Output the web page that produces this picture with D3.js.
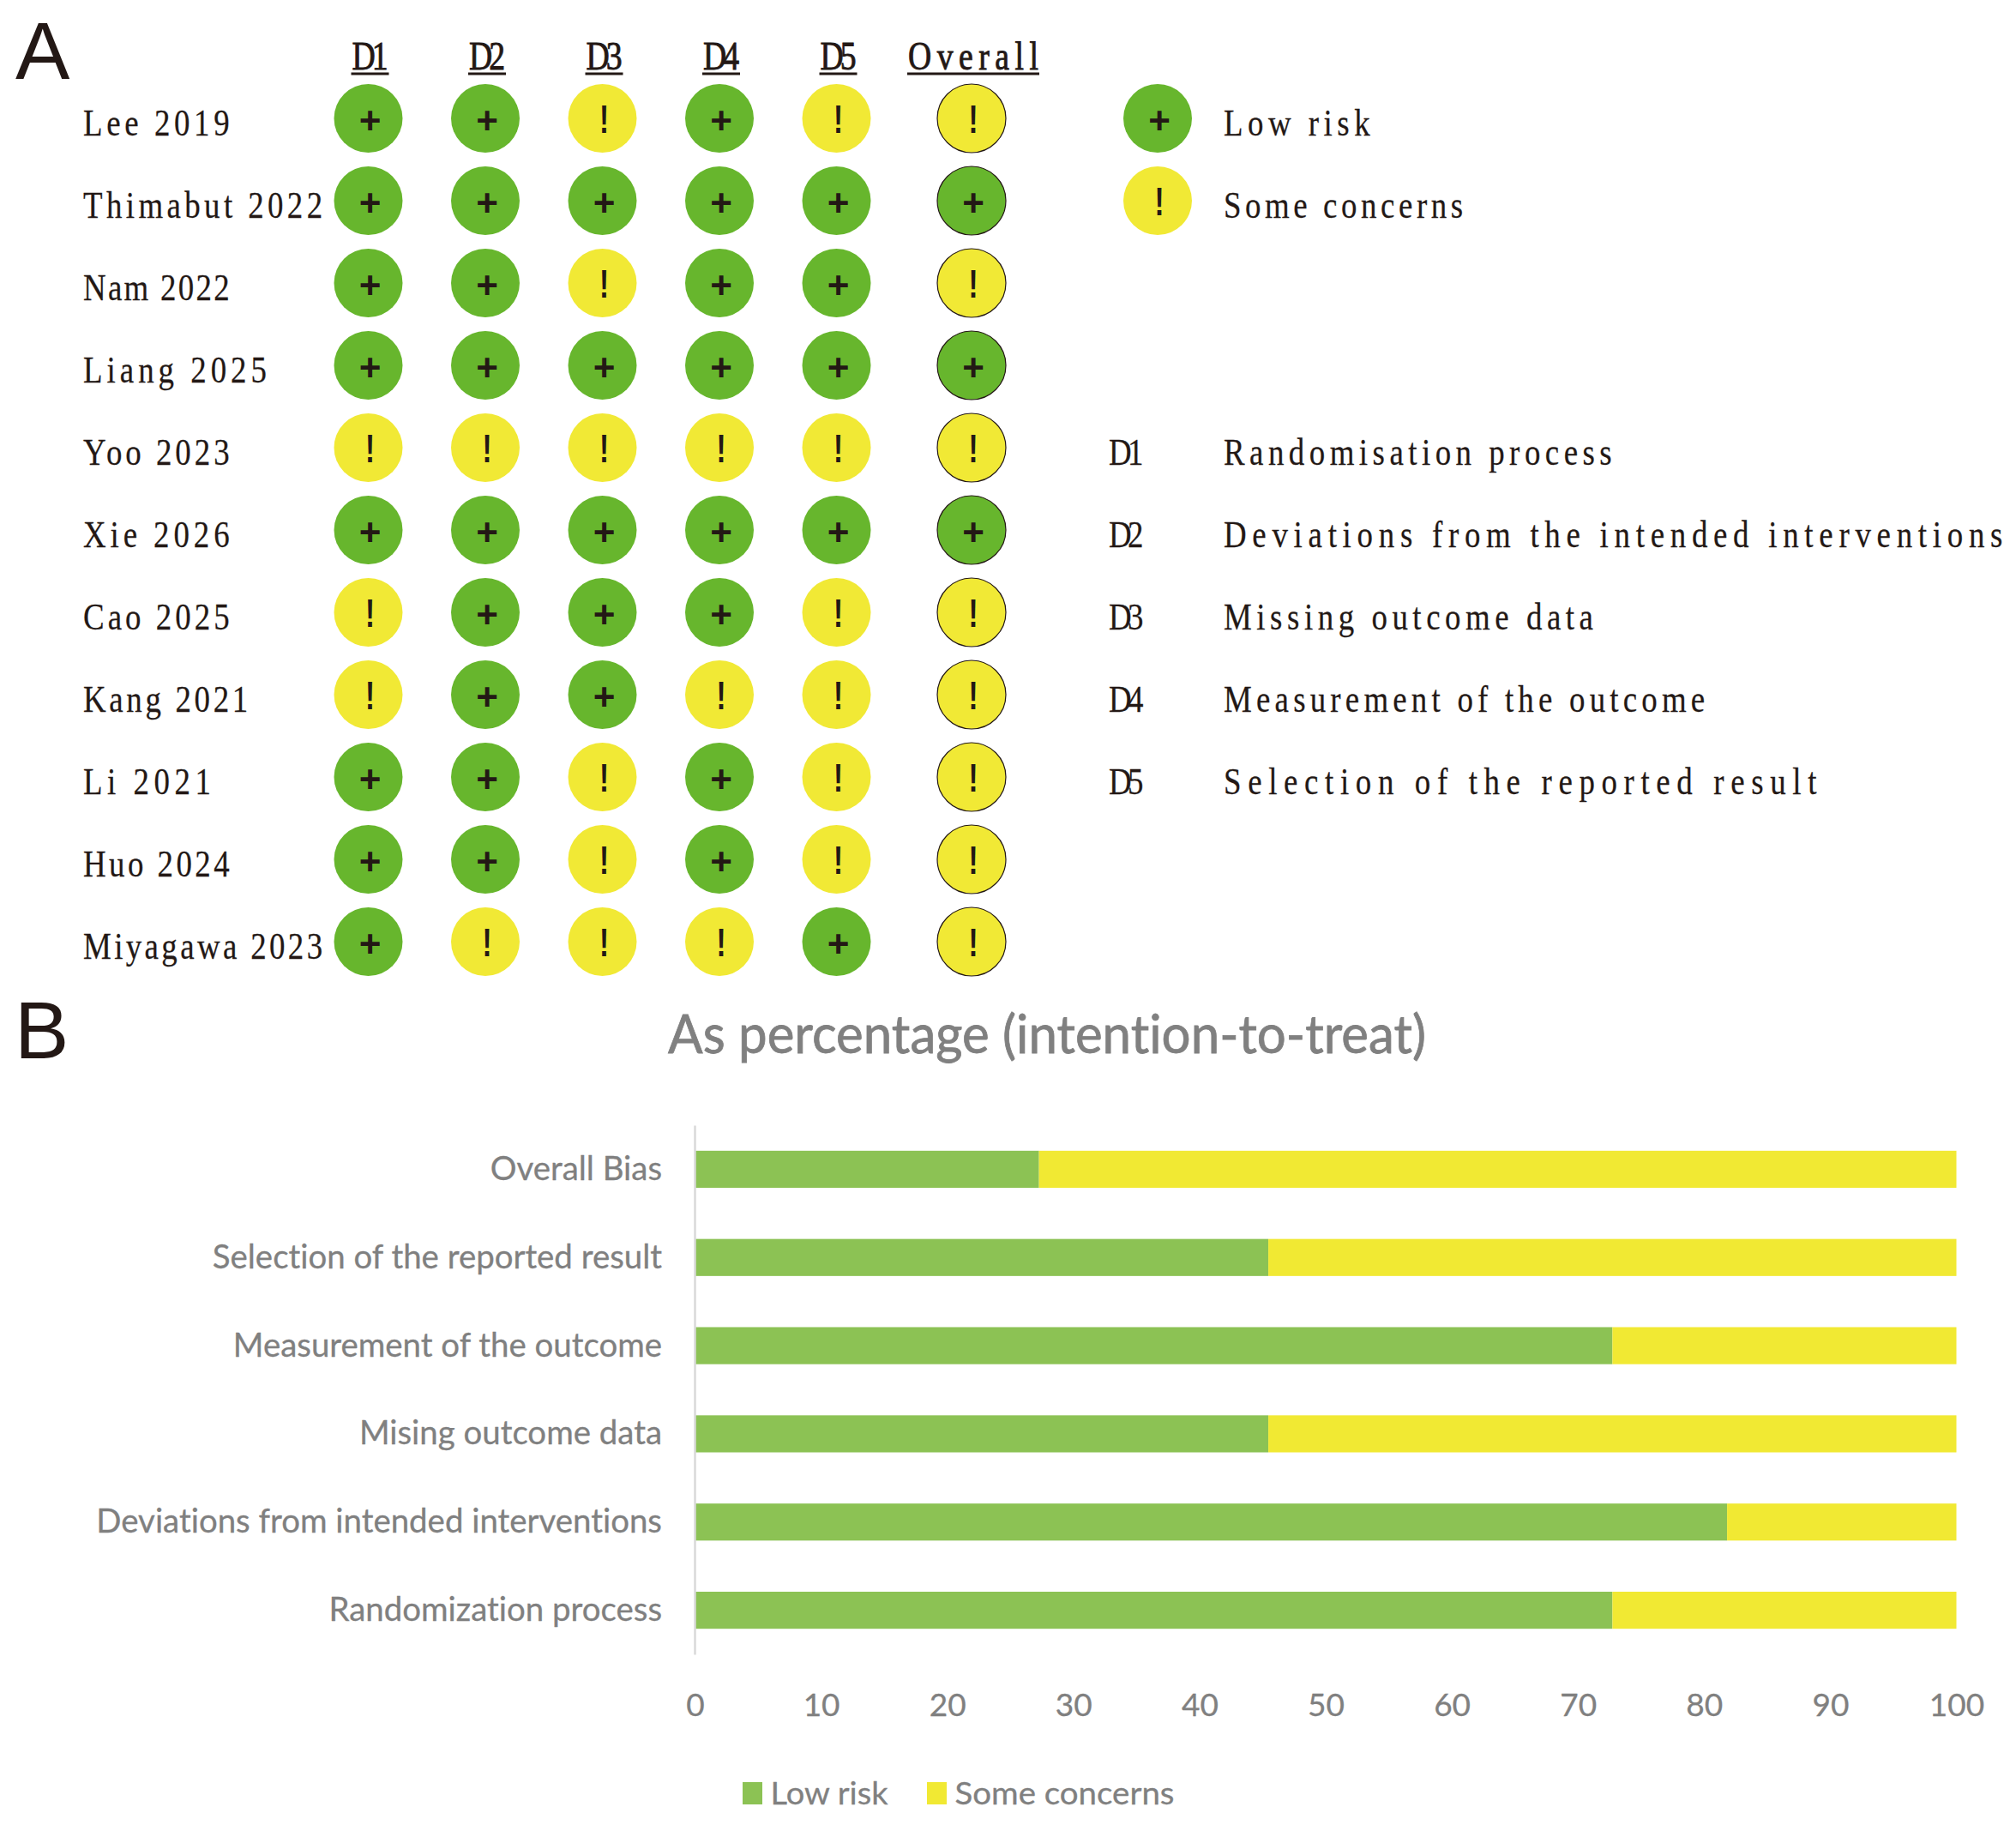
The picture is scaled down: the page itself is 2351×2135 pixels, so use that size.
<!DOCTYPE html>
<html><head><meta charset="utf-8">
<script src="https://cdn.jsdelivr.net/npm/d3@7"></script>
<style>html,body{margin:0;padding:0;background:#fff}svg{display:block}text{font-variant-ligatures:none}</style>
</head><body><svg id="c" width="2351" height="2135"></svg>
<script>
// ---- data ----
const studies = ["Lee 2019","Thimabut 2022","Nam 2022","Liang 2025","Yoo 2023","Xie 2026","Cao 2025","Kang 2021","Li 2021","Huo 2024","Miyagawa 2023"];
const domains = ["D1","D2","D3","D4","D5","Overall"];
const d1 = ["+","+","+","+","!","+","!","!","+","+","+"];
const d2 = ["+","+","+","+","!","+","+","+","+","+","!"];
const d3r = ["!","+","!","+","!","+","+","+","!","!","!"];
const d4 = ["+","+","+","+","!","+","+","!","+","+","!"];
const d5 = ["!","+","+","+","!","+","!","!","!","!","+"];
const overall = ["!","+","!","+","!","+","!","!","!","!","!"];
const judgements = [d1,d2,d3r,d4,d5,overall];
const riskLegend = [["+","Low risk"],["!","Some concerns"]];
const domainLegend = [["D1","Randomisation process"],["D2","Deviations from the intended interventions"],["D3","Missing outcome data"],["D4","Measurement of the outcome"],["D5","Selection of the reported result"]];

const barTitle = "As percentage (intention-to-treat)";
const barCategories = ["Overall Bias","Selection of the reported result","Measurement of the outcome","Mising outcome data","Deviations from intended interventions","Randomization process"];
const lowRisk = [27.27,45.45,72.73,45.45,81.82,72.73];
const someConcerns = [72.73,54.55,27.27,54.55,18.18,27.27];
const xTicks = [0,10,20,30,40,50,60,70,80,90,100];
const barLegend = ["Low risk","Some concerns"];

// ---- style ----
const INK="#231815", GREEN="#67B62D", YELLOW="#F1E935", BAR_G="#8CC254", BAR_Y="#F1E933", GREY="#808080";
const SERIF="'Liberation Serif',serif", SANS="Lato,'Open Sans',sans-serif", HEAD="'Liberation Sans',Arial,sans-serif";
const ADV=21.7, SER=45, R=40, NARROW=.82;
const svg=d3.select("#c");

// ---- panel letters ----
svg.selectAll("text.letter").data([["A",18,92],["B",17,1234]]).join("text").attr("class","letter")
  .attr("x",d=>d[1]).attr("y",d=>d[2]).text(d=>d[0])
  .attr("font-family",HEAD).attr("font-size",95).attr("fill",INK);

// ---- panel A scales ----
const xCol=d3.scaleOrdinal(domains,[429.5,566,702.5,839,975.5,1133]);
const yRow=d3.scalePoint(studies,[138,1098]);
const BASE=20;
// condensed, evenly spread serif text (the reference's typeface is a narrow fixed-pitch serif)
function serifAt(sel,x,str){
  sel.attr("x",d=>x/NARROW).attr("transform",`scale(${NARROW},1)`)
    .attr("font-family",SERIF).attr("font-size",SER).attr("fill",INK)
    .attr("stroke",INK).attr("stroke-width",.25)
    .attr("textLength",d=>(str(d).length*ADV-3)/NARROW).attr("lengthAdjust","spacing");
}

// row labels
svg.append("g").selectAll("text").data(studies).join("text")
  .attr("y",d=>yRow(d)+BASE).text(d=>d).call(serifAt,97,d=>d);

// headers
const hd=svg.append("g").selectAll("g").data(domains).join("g").attr("transform",d=>`translate(${xCol(d)+2},0)`);
hd.append("text").attr("y",81).attr("text-anchor","middle").text(d=>d)
  .attr("transform",`scale(${NARROW},1)`)
  .attr("font-family",SERIF).attr("font-size",46).attr("fill",INK).attr("stroke",INK).attr("stroke-width",.9)
  .attr("textLength",d=>(d.length*22-2)/NARROW).attr("lengthAdjust","spacing");
hd.append("line").attr("x1",d=>-d.length*22/2).attr("x2",d=>d.length*22/2).attr("y1",86).attr("y2",86)
  .attr("stroke",INK).attr("stroke-width",3);

function bubble(g,stroke){
  g.append("circle").attr("r",R).attr("fill",d=>d.v==="+"?GREEN:YELLOW)
    .attr("stroke",stroke?INK:"none").attr("stroke-width",stroke?1.2:0);
  g.append("text").attr("y",d=>d.v==="+"?18:17).attr("text-anchor","middle").text(d=>d.v)
    .attr("transform",d=>d.v==="+"?"translate(2,0)":"translate(2,0) scale(.72,1)")
    .attr("font-family",HEAD).attr("font-weight","bold").attr("font-size",d=>d.v==="+"?44:46).attr("fill",INK);
}
domains.forEach((dom,i)=>{
  const g=svg.append("g").selectAll("g").data(judgements[i].map((v,j)=>({v,s:studies[j]}))).join("g")
    .attr("transform",d=>`translate(${xCol(dom)},${yRow(d.s)})`);
  bubble(g,dom==="Overall");
});

// legend A
const lg=svg.append("g").selectAll("g").data(riskLegend.map((d,i)=>({v:d[0],t:d[1],s:studies[i]}))).join("g")
  .attr("transform",d=>`translate(1350,${yRow(d.s)})`);
bubble(lg,false);
svg.append("g").selectAll("text").data(riskLegend.map((d,i)=>({t:d[1],s:studies[i]}))).join("text")
  .attr("y",d=>yRow(d.s)+BASE).text(d=>d.t).call(serifAt,1427,d=>d.t);

const dl=domainLegend.map((d,i)=>({k:d[0],t:d[1],s:studies[i+4]}));
svg.append("g").selectAll("text").data(dl).join("text")
  .attr("y",d=>yRow(d.s)+BASE).text(d=>d.k).call(serifAt,1293,d=>d.k);
svg.append("g").selectAll("text").data(dl).join("text")
  .attr("y",d=>yRow(d.s)+BASE).text(d=>d.t).call(serifAt,1427,d=>d.t);

// ---- panel B ----
svg.append("text").attr("x",1221).attr("y",1228).attr("text-anchor","middle").text(barTitle)
  .attr("font-family",SANS).attr("font-size",62).attr("fill",GREY).attr("stroke",GREY).attr("stroke-width",.8)
  .attr("textLength",884).attr("lengthAdjust","spacingAndGlyphs");

const xB=d3.scaleLinear().domain([0,100]).range([810.5,2281.5]);
const yB=d3.scaleBand().domain(barCategories).range([1312,1929]).paddingInner(.58).paddingOuter(.29);
const series=[{c:BAR_G,v:lowRisk,o:barCategories.map(()=>0)},{c:BAR_Y,v:someConcerns,o:lowRisk}];
series.forEach(s=>{
  svg.append("g").selectAll("rect").data(barCategories).join("rect")
    .attr("x",(d,i)=>xB(s.o[i])).attr("width",(d,i)=>xB(s.o[i]+s.v[i])-xB(s.o[i]))
    .attr("y",d=>yB(d)).attr("height",yB.bandwidth()).attr("fill",s.c);
});

const SX=.985;
const axL=svg.append("g").attr("transform","translate(810,0)")
  .call(d3.axisLeft(yB).tickSize(0).tickPadding(38));
axL.select(".domain").attr("stroke","#d9d9d9").attr("stroke-width",2.5);
axL.selectAll("text").attr("font-family",SANS).attr("font-size",39).attr("fill",GREY)
  .attr("stroke",GREY).attr("stroke-width",.3)
  .attr("x",-38/SX).attr("transform",`scale(${SX},1)`);

const axB=svg.append("g").attr("transform","translate(0,1929)")
  .call(d3.axisBottom(xB).tickValues(xTicks).tickSize(0).tickPadding(46));
axB.select(".domain").remove();
axB.selectAll("text").attr("font-family",SANS).attr("font-size",37).attr("fill",GREY).attr("stroke",GREY).attr("stroke-width",.3);

// legend B
const lgB=[{t:barLegend[0],c:BAR_G,x:866,w:137},{t:barLegend[1],c:BAR_Y,x:1081,w:256}];
svg.append("g").selectAll("rect").data(lgB).join("rect").attr("x",d=>d.x).attr("y",2078).attr("width",23).attr("height",26).attr("fill",d=>d.c);
svg.append("g").selectAll("text").data(lgB).join("text").attr("x",d=>d.x+32.5).attr("y",2104).text(d=>d.t)
  .attr("font-family",SANS).attr("font-size",37).attr("fill",GREY).attr("stroke",GREY).attr("stroke-width",.3)
  .attr("textLength",d=>d.w).attr("lengthAdjust","spacingAndGlyphs");
</script></body></html>
